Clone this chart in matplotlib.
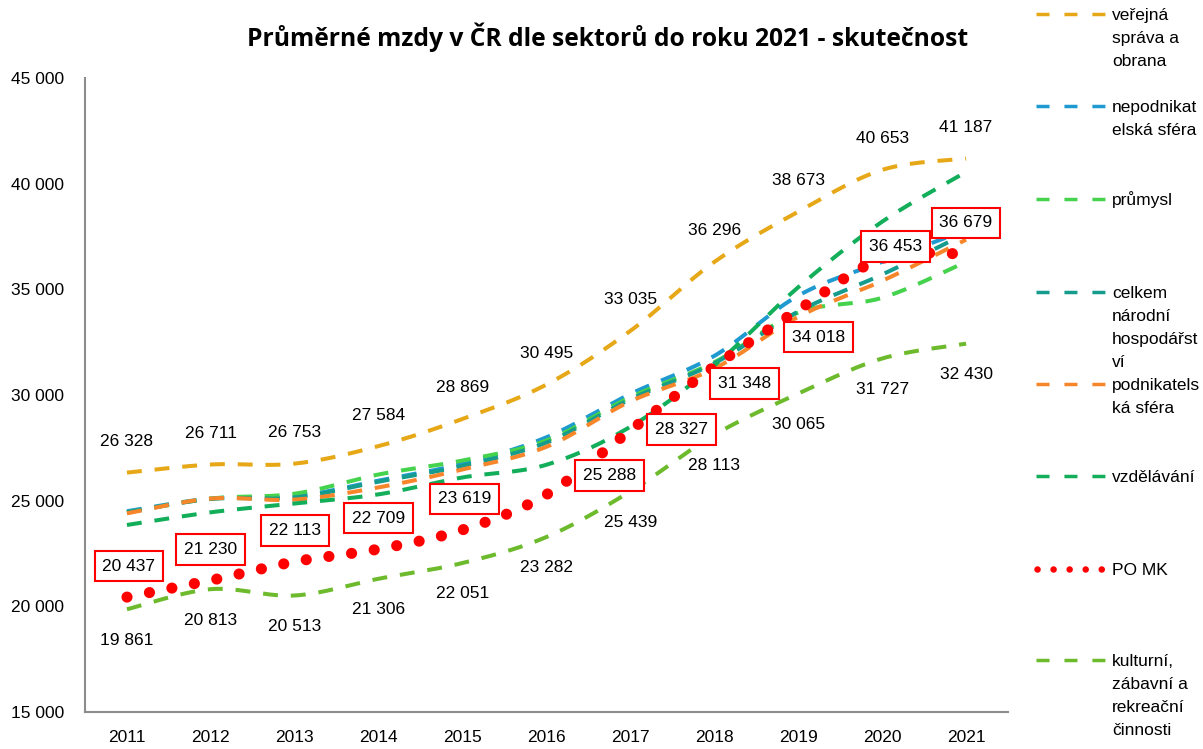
import numpy as np
import matplotlib
matplotlib.use("Agg")
import matplotlib.pyplot as plt
from matplotlib import font_manager
from matplotlib.lines import Line2D

# ---------------- data ----------------
years = [2011, 2012, 2013, 2014, 2015, 2016, 2017, 2018, 2019, 2020, 2021]
verejna = [26328, 26711, 26753, 27584, 28869, 30495, 33035, 36296, 38673, 40653, 41187]
nepodnikatelska = [24500, 25100, 25200, 25950, 26750, 28000, 30050, 31850, 34700, 36300, 37800]
prumysl = [24450, 25100, 25330, 26240, 26900, 27850, 29900, 31550, 33900, 34600, 36300]
celkem = [24450, 25080, 25150, 25900, 26650, 27750, 29800, 31500, 33950, 35700, 37650]
podnikatelska = [24400, 25100, 25050, 25630, 26480, 27550, 29700, 31250, 33700, 35400, 37350]
vzdelavani = [23850, 24450, 24870, 25300, 26100, 26700, 28500, 31400, 35100, 38200, 40550]
po_mk = [20437, 21230, 22113, 22709, 23619, 25288, 28327, 31348, 34018, 36453, 36679]
kulturni = [19861, 20813, 20513, 21306, 22051, 23282, 25439, 28113, 30065, 31727, 32430]

legend_labels = ["veřejná\nspráva a\nobrana", "nepodnikat\nelská sféra", "průmysl",
                 "celkem\nnárodní\nhospodářst\nví", "podnikatels\nká sféra", "vzdělávání",
                 "PO MK", "kulturní,\nzábavní a\nrekreační\nčinnosti"]
title = "Průměrné mzdy v ČR dle sektorů do roku 2021 - skutečnost"

# label offsets for PO MK boxes (pixels, right / up)
pomk_offsets = [(2, 31), (0, 31), (0, 31), (0, 31), (2, 31), (63, 19),
                (51, 1), (30, -17), (20, -27), (13, 12), (0, 31)]

# ---------------- style ----------------
names = {f.name for f in font_manager.fontManager.ttflist}
FONT = "Liberation Sans"
TFONT = "Open Sans" if "Open Sans" in names else "DejaVu Sans"
plt.rcParams["font.family"] = [FONT, "DejaVu Sans"]
FS = 12.5

colors = ["#E6A817", "#1E9AD0", "#45D24C", "#169C8C", "#F7862A", "#12AE5A", "#FF0000", "#6DBB2D"]

W, H = 1203, 749
fig = plt.figure(figsize=(W / 100, H / 100), dpi=100)
fig.patch.set_facecolor("white")

L, R, T, B = 85, 1008, 78, 712
ax = fig.add_axes([L / W, (H - B) / H, (R - L) / W, (B - T) / H])
ax.set_xlim(-0.5, len(years) - 0.5)
ax.set_ylim(15000, 45000)
ax.set_yticks(range(15000, 45001, 5000))
ax.set_yticklabels([f"{v:,}".replace(",", " ") for v in range(15000, 45001, 5000)], fontsize=FS)
ax.set_xticks(range(len(years)))
ax.set_xticklabels([str(y) for y in years], fontsize=FS)
ax.tick_params(axis="both", length=0)
ax.tick_params(axis="y", pad=15)
ax.tick_params(axis="x", pad=13)
for s in ["top", "right"]:
    ax.spines[s].set_visible(False)
for s in ["left", "bottom"]:
    ax.spines[s].set_color("#8C8C8C")
    ax.spines[s].set_linewidth(1.5)


def smooth(xs, ys, n=40):
    P = np.column_stack([xs, ys]).astype(float)
    Pe = np.vstack([P[0], P, P[-1]])
    t = np.linspace(0, 1, n)[:, None]
    out = []
    for i in range(len(P) - 1):
        p0, p1, p2, p3 = Pe[i], Pe[i + 1], Pe[i + 2], Pe[i + 3]
        c1 = p1 + (p2 - p0) / 6.0
        c2 = p2 - (p3 - p1) / 6.0
        seg = (1 - t) ** 3 * p1 + 3 * (1 - t) ** 2 * t * c1 + 3 * (1 - t) * t ** 2 * c2 + t ** 3 * p2
        out.append(seg if i == 0 else seg[1:])
    return np.vstack(out)


series = [verejna, nepodnikatelska, prumysl, celkem, podnikatelska, vzdelavani, po_mk, kulturni]
xi = np.arange(len(years))
for k, (vals, c) in enumerate(zip(series, colors)):
    pts = smooth(xi, vals)
    if k == 6:
        ax.plot(pts[:, 0], pts[:, 1], color=c, lw=8, linestyle=(0, (0.01, 2.05)),
                dash_capstyle="round", zorder=3 + k, clip_on=False)
    else:
        ax.plot(pts[:, 0], pts[:, 1], color=c, lw=2.9, linestyle=(0, (3.7, 3.2)),
                dash_capstyle="butt", zorder=3 + k, clip_on=False)

fmt = lambda v: f"{v:,}".replace(",", " ")
for i, v in enumerate(verejna):
    ax.annotate(fmt(v), (i, v), xytext=(0, 31), textcoords="offset pixels",
                ha="center", va="center", fontsize=FS, zorder=20)
for i, v in enumerate(kulturni):
    ax.annotate(fmt(v), (i, v), xytext=(0, -31), textcoords="offset pixels",
                ha="center", va="center", fontsize=FS, zorder=20)
for i, v in enumerate(po_mk):
    dx, dy = pomk_offsets[i]
    ax.annotate(fmt(v), (i, v), xytext=(dx, dy), textcoords="offset pixels",
                ha="center", va="center", fontsize=FS, zorder=21,
                bbox=dict(boxstyle="square,pad=0.45", fc="white", ec="#FF0000", lw=1.5))

fig.text(608 / W, 1 - 37 / H, title, ha="center", va="center", fontsize=17.7,
         fontweight="bold", family=[TFONT, "DejaVu Sans"])

# ---------------- legend ----------------
leg_y = [14, 106, 199, 292, 384, 476, 569, 660]
for k, (lab, c, yl) in enumerate(zip(legend_labels, colors, leg_y)):
    yf = 1 - yl / H
    if k == 6:
        ln = Line2D([1037 / W, 1104 / W], [yf, yf], transform=fig.transFigure, color=c,
                    lw=4.7, linestyle=(0, (0.01, 2.45)), dash_capstyle="round")
    else:
        ln = Line2D([1036 / W, 1106 / W], [yf, yf], transform=fig.transFigure, color=c,
                    lw=2.5, linestyle=(0, (3.75, 4.3)), dash_capstyle="butt")
    fig.add_artist(ln)
    for j, line in enumerate(lab.split("\n")):
        fig.text(1112 / W, 1 - (yl + 6 + 23 * j) / H, line, ha="left", va="baseline", fontsize=FS)

fig.savefig("out.png", dpi=100, facecolor="white")
